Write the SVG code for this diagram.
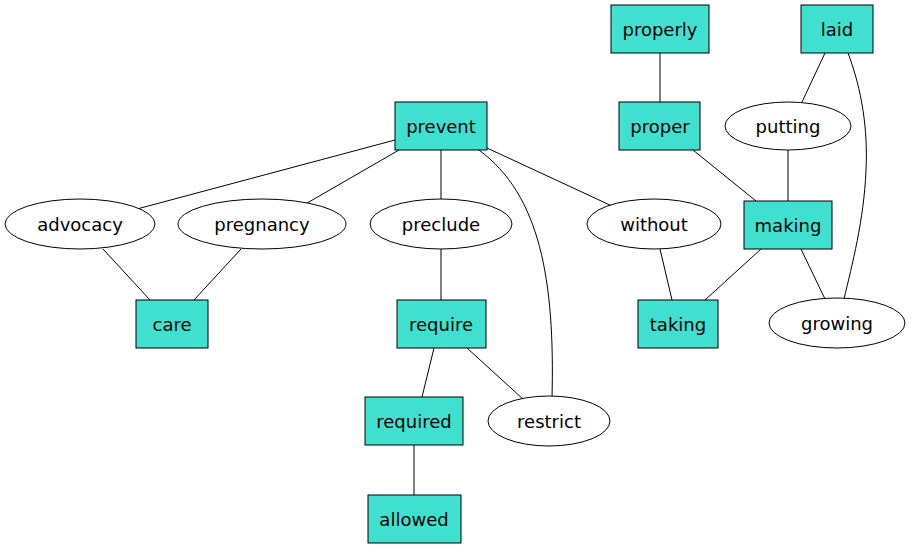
<svg xmlns="http://www.w3.org/2000/svg" width="911" height="549" viewBox="0 0 911 549">
<style>
.box{fill:#40e0d0;stroke:#000;stroke-width:1}
.ell{fill:#fff;stroke:#000;stroke-width:1}
text{font-family:"DejaVu Sans",sans-serif;font-size:18px;text-anchor:middle;dominant-baseline:central;fill:#000}
#edges path{fill:none;stroke:#000;stroke-width:1}
</style>
<rect width="911" height="549" fill="#fff"/>
<g id="edges">
<path d="M660,53 L660,102"/>
<path d="M825,53 L802,102"/>
<path d="M848,53 C862,90 868,130 866,170 C864,220 852,265 844,299"/>
<path d="M693,150 L756,201"/>
<path d="M788,150 L788,201"/>
<path d="M395,140 L137,209"/>
<path d="M399,150 L302,206"/>
<path d="M441,150 L441,200"/>
<path d="M479,150 C540,195 555,280 552,398"/>
<path d="M487,148 L612,206"/>
<path d="M103,249 L150,300"/>
<path d="M241,249 L194,300"/>
<path d="M441,248 L441,300"/>
<path d="M434,348 L422,397"/>
<path d="M467,348 L524,400"/>
<path d="M660,249 L672,300"/>
<path d="M761,249 L705,300"/>
<path d="M801,249 L825,299"/>
<path d="M414,445 L414,495"/>
</g>
<g id="properly"><rect class="box" x="611" y="5" width="98" height="48"/><text x="660" y="29">properly</text></g>
<g id="laid"><rect class="box" x="801" y="5" width="72" height="48"/><text x="837" y="29">laid</text></g>
<g id="prevent"><rect class="box" x="395" y="102" width="92" height="48"/><text x="441" y="126">prevent</text></g>
<g id="proper"><rect class="box" x="619" y="102" width="81" height="48"/><text x="660" y="126">proper</text></g>
<g id="putting"><ellipse class="ell" cx="788" cy="126" rx="63" ry="24"/><text x="788" y="126">putting</text></g>
<g id="advocacy"><ellipse class="ell" cx="80" cy="224" rx="75" ry="25"/><text x="80" y="224">advocacy</text></g>
<g id="pregnancy"><ellipse class="ell" cx="262" cy="224" rx="84" ry="25"/><text x="262" y="224">pregnancy</text></g>
<g id="preclude"><ellipse class="ell" cx="441" cy="224" rx="71" ry="25"/><text x="441" y="224">preclude</text></g>
<g id="without"><ellipse class="ell" cx="654" cy="224" rx="67" ry="25"/><text x="654" y="224">without</text></g>
<g id="making"><rect class="box" x="744" y="201" width="88" height="48"/><text x="788" y="225">making</text></g>
<g id="care"><rect class="box" x="136" y="300" width="72" height="48"/><text x="172" y="324">care</text></g>
<g id="require"><rect class="box" x="397" y="300" width="89" height="48"/><text x="441" y="324">require</text></g>
<g id="taking"><rect class="box" x="638" y="300" width="80" height="48"/><text x="678" y="324">taking</text></g>
<g id="growing"><ellipse class="ell" cx="837" cy="323" rx="68" ry="25"/><text x="837" y="323">growing</text></g>
<g id="required"><rect class="box" x="365" y="397" width="98" height="48"/><text x="414" y="421">required</text></g>
<g id="restrict"><ellipse class="ell" cx="549" cy="421" rx="61" ry="25"/><text x="549" y="421">restrict</text></g>
<g id="allowed"><rect class="box" x="368" y="495" width="93" height="48"/><text x="414" y="519">allowed</text></g>
</svg>
